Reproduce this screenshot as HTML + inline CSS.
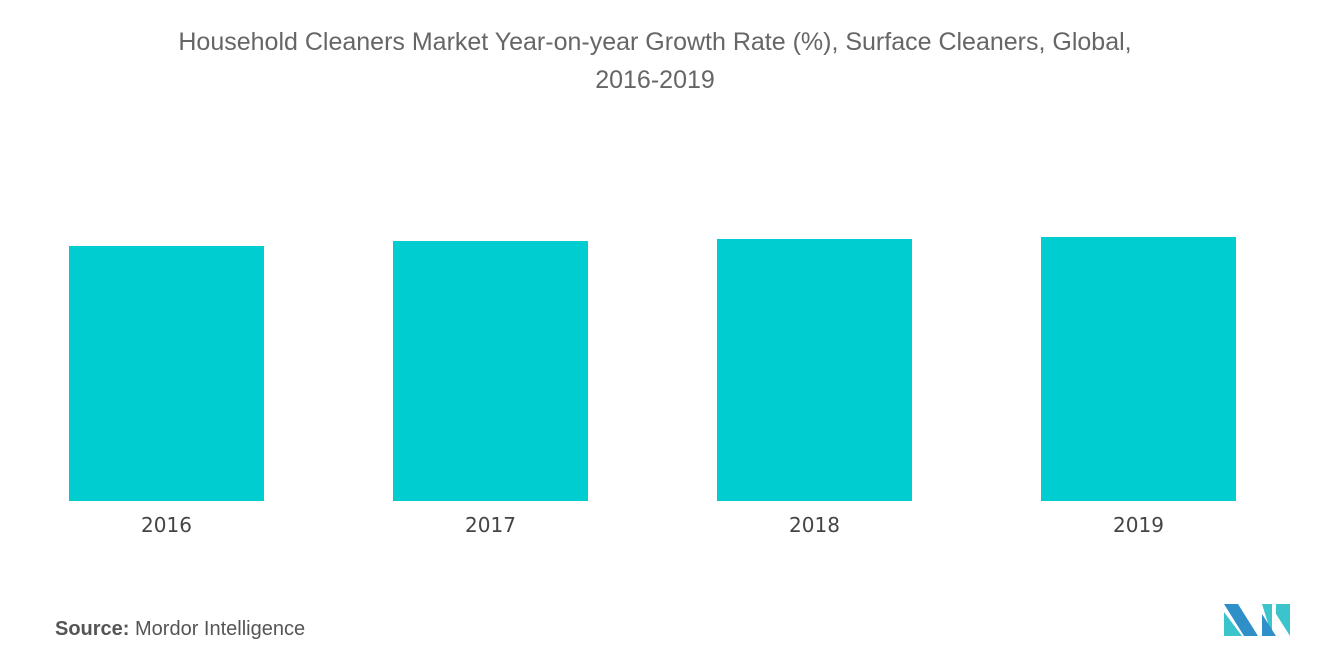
<!DOCTYPE html>
<html><head><meta charset="utf-8"><style>
body{margin:0;width:1320px;height:665px;background:#fff;font-family:"Liberation Sans",sans-serif;overflow:hidden}
</style></head><body>
<svg width="1320" height="665">
<text x="655" y="50" text-anchor="middle" font-size="25" fill="#666">Household Cleaners Market Year-on-year Growth Rate (%), Surface Cleaners, Global,</text>
<text x="655" y="88" text-anchor="middle" font-size="25" fill="#666">2016-2019</text>
<g id="bars"></g>
<text x="55" y="635" font-size="20" fill="#555"><tspan font-weight="bold">Source:</tspan> Mordor Intelligence</text>
<g>
<polygon points="1224,604 1238,604 1258,636 1244,636" fill="#2f8fc9"/>
<polygon points="1224,612 1242,636 1224,636" fill="#3cc4cc"/>
<polygon points="1262,604 1272,604 1272,636" fill="#3cc4cc"/>
<polygon points="1262,614 1276,636 1262,636" fill="#2f8fc9"/>
<polygon points="1276,604 1290,604 1290,636 1276,614" fill="#3cc4cc"/>
</g>
</svg>
<script>
const categories=["2016","2017","2018","2019"];
const values=[2.55,2.60,2.62,2.64];
const baseY=501, pxPerUnit=100;
function yScale(v){return baseY-v*pxPerUnit;}
function xScale(i){return 69+i*324;}
const g=document.getElementById('bars');
const ns="http://www.w3.org/2000/svg";
categories.forEach((c,i)=>{
  const r=document.createElementNS(ns,'rect');
  r.setAttribute('x',xScale(i));r.setAttribute('width',195);
  r.setAttribute('y',yScale(values[i]));r.setAttribute('height',baseY-yScale(values[i]));
  r.setAttribute('fill','#00cdd0');
  
  
  g.appendChild(r);
  const t=document.createElementNS(ns,'text');
  t.setAttribute('x',xScale(i)+97.5);t.setAttribute('y',532);
  t.setAttribute('text-anchor','middle');t.setAttribute('font-size','20');t.setAttribute('fill','#444');
  t.setAttribute('font-family','"DejaVu Sans", sans-serif');
  t.textContent=c;
  
  
  g.appendChild(t);
});
</script>
</body></html>
